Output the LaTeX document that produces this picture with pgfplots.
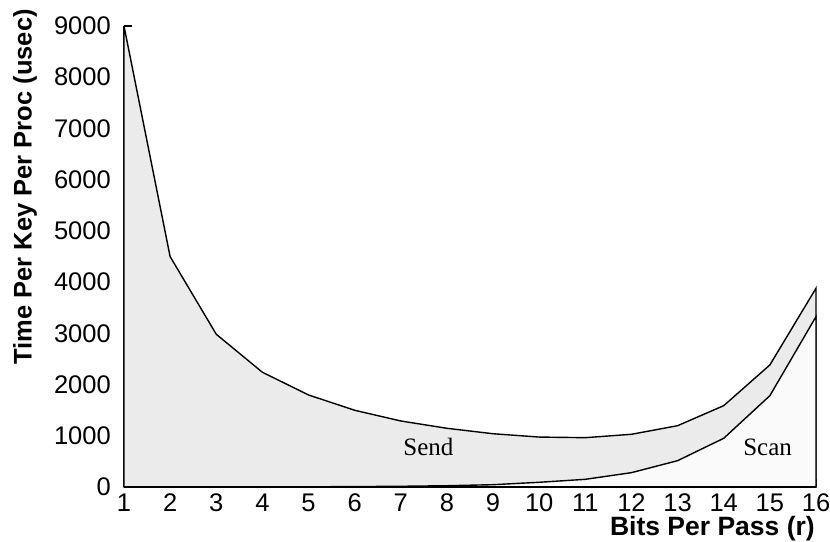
\documentclass[border=0pt]{standalone}
\usepackage{fontspec}
\setmainfont{Liberation Sans}
\newfontfamily\serifft{Liberation Serif}
\usepackage{pgfplots}
\pgfplotsset{compat=1.18}
\definecolor{sendgray}{HTML}{EBEBEB}
\definecolor{scangray}{HTML}{FAFAFA}
\begin{document}
\begin{tikzpicture}
\path[use as bounding box] (-124pt,-54pt) rectangle (706pt,487pt);
\begin{axis}[
  at={(0,0)}, anchor=south west,
  scale only axis, width=692pt, height=461pt,
  xmin=1, xmax=16, ymin=0, ymax=9000,
  axis x line=bottom, axis y line=left,
  axis line style={-, line width=2pt},
  xtick={1,2,...,16},
  ytick={0,1000,...,9000},
  tick align=inside,
  major tick length=8pt,
  tick style={line width=1.5pt, black},
  /pgf/number format/assume math mode=true,
  /pgf/number format/set thousands separator={},
  ticklabel style={font=\fontsize{25.5}{28}\selectfont},
  xticklabel style={inner sep=0pt, text height=18pt, text depth=0pt, yshift=-6pt},
  yticklabel style={inner sep=0pt, xshift=-13pt},
  xlabel={Bits Per Pass (r)},
  ylabel={Time Per Key Per Proc (usec)},
  xlabel style={font=\fontsize{26.5}{29}\selectfont\bfseries, at={(axis description cs:1,0)}, anchor=north east, inner sep=0pt, yshift=-29pt, xshift=-1pt},
  ylabel style={font=\fontsize{25.5}{28}\selectfont\bfseries, at={(axis description cs:0,0.651)}, anchor=center, yshift=99pt, inner sep=0pt},
  clip=false,
]
\addplot[fill=sendgray, draw=black, line width=1.4pt] coordinates {
(1,9000) (2,4498) (3,2982) (4,2240) (5,1797) (6,1498) (7,1289) (8,1146)
(9,1040) (10,975) (11,963) (12,1029) (13,1197) (14,1588) (15,2383) (16,3880)
} \closedcycle;
\addplot[fill=scangray, draw=black, line width=1.4pt] coordinates {
(1,0) (2,0) (3,1) (4,2) (5,4) (6,8) (7,14) (8,25)
(9,45) (10,92) (11,150) (12,280) (13,514) (14,951) (15,1783) (16,3326)
} \closedcycle;
\draw[line width=2pt] (axis cs:1,0) -- (axis cs:16,0);
\node[font=\serifft\fontsize{25}{27}\selectfont] at (axis cs:7.6,780) {Send};
\node[font=\serifft\fontsize{25}{27}\selectfont] at (axis cs:14.95,780) {Scan};
\end{axis}
\end{tikzpicture}
\end{document}
